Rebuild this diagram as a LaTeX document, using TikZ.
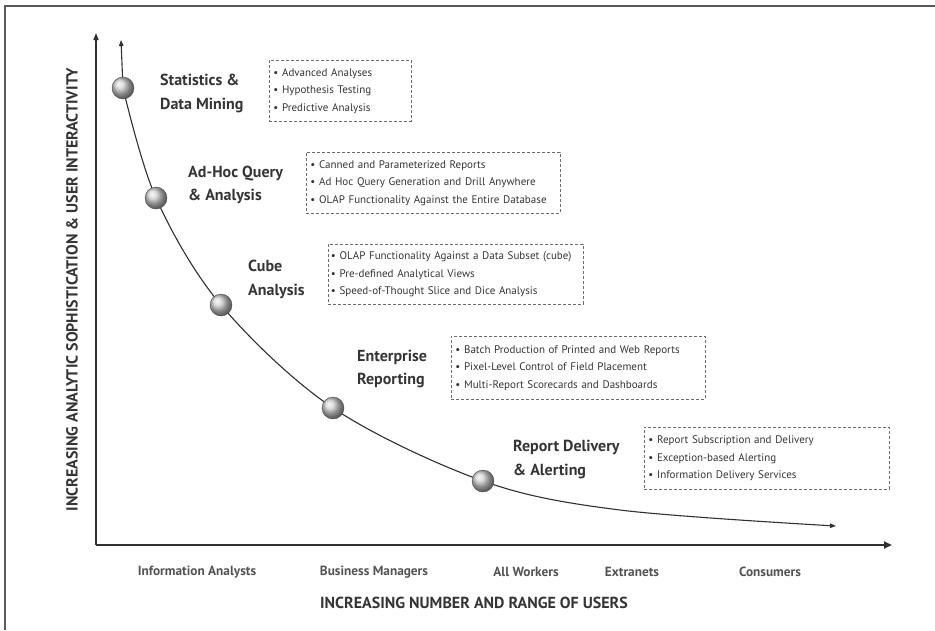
\documentclass[tikz,border=0pt]{standalone}
\usepackage{fontspec}
\setmainfont{PT Sans}
\usetikzlibrary{arrows.meta,shadings}
\definecolor{txt}{HTML}{353535}
\definecolor{ln}{HTML}{303030}
\begin{document}
\begin{tikzpicture}[x=1pt,y=-1pt,
  stage/.style={font=\fontsize{16}{23.5}\selectfont\bfseries, text=txt, align=left, anchor=west, inner sep=0pt},
  itembox/.style={draw=gray!85!black, dash pattern=on 3pt off 2pt, line width=0.9pt, anchor=north west, align=left,
     font=\fontsize{11}{17.5}\selectfont, text=txt, inner xsep=4pt, inner ysep=3pt},
  ball/.style={circle, minimum size=22pt, inner sep=0pt, shading=ball, ball color=gray!38, draw=gray!60!black, line width=0.4pt},
  user/.style={font=\fontsize{13.3}{15}\selectfont\bfseries, text=txt!85, inner sep=0pt},
  axtitle/.style={font=\fontsize{16}{18}\selectfont\bfseries, text=txt, inner sep=0pt},
  tip/.style={-{Triangle[length=7pt,width=5pt]}}
]
\useasboundingbox (0,0) rectangle (935,630);
\draw[gray!70!black, line width=1.2pt] (5,630) -- (5,6) -- (935,6);

% axes
\coordinate (O) at (96,545);
\coordinate (ytip) at (96,33);
\coordinate (xtip) at (892,545);
\draw[ln, line width=1.4pt, tip] (O) -- (ytip);
\draw[ln, line width=2.4pt, -{Triangle[length=8pt,width=7pt]}] (O) -- (xtip);

% curve points
\coordinate (cs) at (121,40);
\coordinate (p1) at (123,88);
\coordinate (p2) at (156,198);
\coordinate (p3) at (221,305);
\coordinate (p4) at (333,408);
\coordinate (p5) at (483,481);
\coordinate (q1) at (620,510);
\coordinate (ce) at (836,526);
\draw[ln, line width=1.1pt, -{Triangle[length=6pt,width=4.5pt]}] (p1) -- (cs);
\draw[ln, line width=1.1pt, -{Triangle[length=6pt,width=4.5pt]}]
  plot[smooth, tension=0.55] coordinates {(p1) (p2) (p3) (p4) (p5) (q1) (ce)};

\node[ball] (b1) at (p1) {};
\node[ball] (b2) at (p2) {};
\node[ball] (b3) at (p3) {};
\node[ball] (b4) at (p4) {};
\node[ball] (b5) at (p5) {};

% stage labels
\node[stage] (s1) at (160,93.5) {Statistics \&\\Data Mining};
\node[stage] (s2) at (188,185) {Ad-Hoc Query\\\& Analysis};
\node[stage] (s3) at (248,279.5) {Cube\\Analysis};
\node[stage] (s4) at (357,369) {Enterprise\\Reporting};
\node[stage] (s5) at (513,459.5) {Report Delivery\\\& Alerting};

% boxes
\node[itembox, minimum width=142pt, minimum height=61pt, text width=134pt] (k1) at (269,60)
  {\textbullet\ Advanced Analyses\\\textbullet\ Hypothesis Testing\\\textbullet\ Predictive Analysis};
\node[itembox, minimum width=254pt, minimum height=61pt, text width=246pt] (k2) at (306,152)
  {\textbullet\ Canned and Parameterized Reports\\\textbullet\ Ad Hoc Query Generation and Drill Anywhere\\\textbullet\ OLAP Functionality Against the Entire Database};
\node[itembox, minimum width=255pt, minimum height=60pt, text width=250pt, inner xsep=2.5pt] (k3) at (328,244)
  {\textbullet\ OLAP Functionality Against a Data Subset (cube)\\\textbullet\ Pre-defined Analytical Views\\\textbullet\ Speed-of-Thought Slice and Dice Analysis};
\node[itembox, minimum width=254pt, minimum height=63pt, text width=246pt] (k4) at (451,336)
  {\textbullet\ Batch Production of Printed and Web Reports\\\textbullet\ Pixel-Level Control of Field Placement\\\textbullet\ Multi-Report Scorecards and Dashboards};
\node[itembox, minimum width=245pt, minimum height=62pt, text width=237pt] (k5) at (644,427)
  {\textbullet\ Report Subscription and Delivery\\\textbullet\ Exception-based Alerting\\\textbullet\ Information Delivery Services};

% user groups
\node[user] (u1) at (197,572) {Information Analysts};
\node[user] (u2) at (374,572) {Business Managers};
\node[user] (u3) at (526,572) {All Workers};
\node[user] (u4) at (632,572) {Extranets};
\node[user] (u5) at (770,572) {Consumers};

\node[axtitle] (xt) at (474,603) {INCREASING NUMBER AND RANGE OF USERS};
\node[axtitle, rotate=90] (yt) at (72,290) {INCREASING ANALYTIC SOPHISTICATION \& USER INTERACTIVITY};
\end{tikzpicture}
\end{document}
